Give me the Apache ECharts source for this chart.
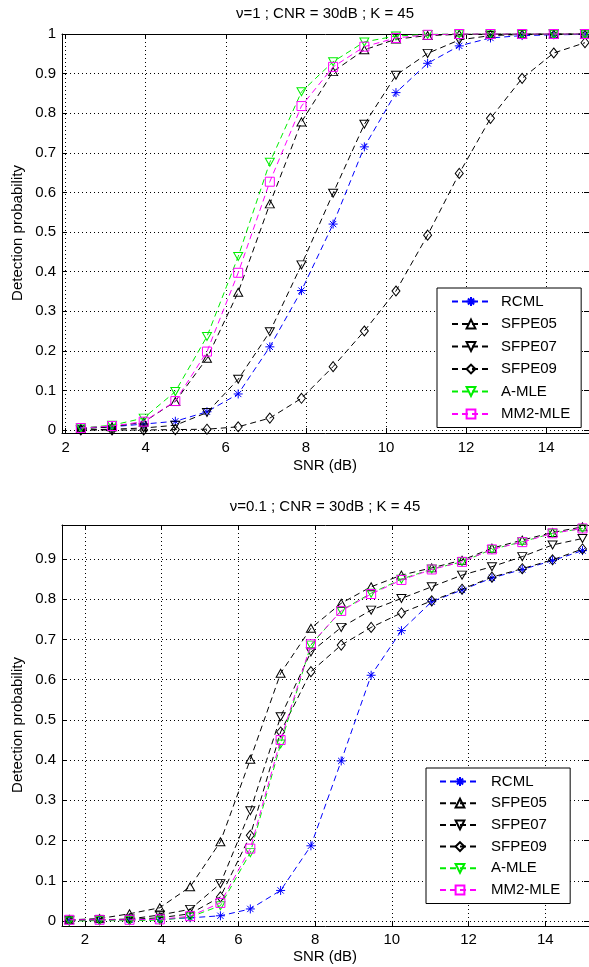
<!DOCTYPE html>
<html><head><meta charset="utf-8">
<script src="https://cdn.jsdelivr.net/npm/echarts@6/dist/echarts.min.js"></script>
<style>html,body{margin:0;padding:0;background:#fff}#c{width:589px;height:967px}</style>
</head><body><div id="c"></div>
<script>
// ---------- data ----------
const seriesNames = ['RCML', 'SFPE05', 'SFPE07', 'SFPE09', 'A-MLE', 'MM2-MLE'];
const titleTop = 'ν=1 ; CNR = 30dB ; K = 45';
const titleBottom = 'ν=0.1 ; CNR = 30dB ; K = 45';
const xLabel = 'SNR (dB)';
const yLabel = 'Detection probability';
const xTicks = [2, 4, 6, 8, 10, 12, 14];
const yTicksTop = [0, 0.1, 0.2, 0.3, 0.4, 0.5, 0.6, 0.7, 0.8, 0.9, 1];
const yTicksBottom = [0, 0.1, 0.2, 0.3, 0.4, 0.5, 0.6, 0.7, 0.8, 0.9];

const snrTop = [2.38, 3.16, 3.95, 4.74, 5.53, 6.31, 7.10, 7.89, 8.68, 9.46, 10.25, 11.04, 11.83, 12.61, 13.40, 14.19, 14.97];
const topRCML   = [0.005, 0.008, 0.015, 0.022, 0.046, 0.091, 0.21, 0.352, 0.52, 0.715, 0.852, 0.926, 0.97, 0.99, 0.996, 0.998, 0.999];
const topSFPE05 = [0.003, 0.008, 0.02, 0.072, 0.181, 0.348, 0.571, 0.778, 0.905, 0.96, 0.987, 0.996, 0.999, 1, 1, 1, 1];
const topSFPE07 = [0.0, 0.002, 0.005, 0.012, 0.044, 0.128, 0.248, 0.417, 0.598, 0.772, 0.896, 0.951, 0.985, 0.996, 0.999, 1, 1];
const topSFPE09 = [0, 0, 0, 0.001, 0.002, 0.008, 0.03, 0.08, 0.16, 0.25, 0.351, 0.492, 0.648, 0.787, 0.888, 0.952, 0.978];
const topAMLE   = [0.005, 0.012, 0.03, 0.097, 0.236, 0.438, 0.676, 0.854, 0.93, 0.98, 0.995, 0.999, 1, 1, 1, 1, 1];
const topMM2    = [0.005, 0.01, 0.021, 0.073, 0.198, 0.397, 0.627, 0.818, 0.917, 0.968, 0.99, 0.998, 1, 1, 1, 1, 1];

const snrBottom = [1.59, 2.38, 3.16, 3.95, 4.74, 5.53, 6.31, 7.10, 7.89, 8.68, 9.46, 10.25, 11.04, 11.83, 12.61, 13.40, 14.19, 14.97];
const botRCML   = [0.002, 0.002, 0.003, 0.004, 0.008, 0.013, 0.03, 0.076, 0.187, 0.398, 0.611, 0.722, 0.794, 0.823, 0.853, 0.874, 0.896, 0.921];
const botSFPE05 = [0.003, 0.006, 0.018, 0.033, 0.085, 0.197, 0.402, 0.616, 0.728, 0.79, 0.831, 0.86, 0.878, 0.897, 0.927, 0.947, 0.966, 0.98];
const botSFPE07 = [0.002, 0.003, 0.005, 0.015, 0.029, 0.093, 0.274, 0.508, 0.669, 0.73, 0.773, 0.802, 0.831, 0.86, 0.881, 0.906, 0.935, 0.951];
const botSFPE09 = [0.002, 0.003, 0.004, 0.008, 0.018, 0.06, 0.213, 0.47, 0.62, 0.686, 0.73, 0.766, 0.796, 0.825, 0.855, 0.876, 0.898, 0.925];
const botAMLE   = [0.0, 0.001, 0.001, 0.002, 0.01, 0.038, 0.17, 0.44, 0.686, 0.772, 0.815, 0.85, 0.875, 0.893, 0.924, 0.943, 0.964, 0.976];
const botMM2    = [0.003, 0.003, 0.003, 0.004, 0.012, 0.045, 0.18, 0.45, 0.688, 0.771, 0.813, 0.848, 0.874, 0.893, 0.924, 0.942, 0.964, 0.976];

// ---------- styles ----------
const FONT = '"Liberation Sans", Arial, sans-serif';
const STAR = 'path://M0,-10L0,10M-10,0L10,0M-7,-7L7,7M-7,7L7,-7';
const UP = 'path://M5,0L10,9L0,9Z';
const DOWN = 'path://M0,0L10,0L5,9Z';
const DIAM = 'path://M5,0L10,6L5,12L0,6Z';
const SQ = 'path://M0,0L10,0L10,10L0,10Z';
const STYLE = [
  { color: '#0000ff', symbol: STAR, size: 9 },
  { color: '#000000', symbol: UP, size: [9, 8] },
  { color: '#000000', symbol: DOWN, size: [9, 8] },
  { color: '#000000', symbol: DIAM, size: [8, 10] },
  { color: '#00ee00', symbol: DOWN, size: [9, 8] },
  { color: '#ff00ff', symbol: SQ, size: 9 }
];

const topSets = [topRCML, topSFPE05, topSFPE07, topSFPE09, topAMLE, topMM2];
const botSets = [botRCML, botSFPE05, botSFPE07, botSFPE09, botAMLE, botMM2];

function makeSeries(gi, xs, ys, k) {
  const st = STYLE[k];
  return {
    type: 'line', name: seriesNames[k],
    xAxisIndex: gi * 2, yAxisIndex: gi * 2,
    data: xs.map((x, i) => [x, ys[i]]),
    symbol: st.symbol, symbolSize: st.size, clip: false,
    showAllSymbol: true,
    lineStyle: { color: st.color, width: 1, type: [6, 4] },
    itemStyle: { color: 'rgba(0,0,0,0)', borderColor: st.color, borderWidth: 1 },
    emphasis: { disabled: true },
    z: 2 + k
  };
}

const GRIDS = [
  { left: 62, top: 34, width: 527, height: 399, xmin: 1.91, xmax: 15.07, ymin: -0.0076, ymax: 1, yTicks: yTicksTop, lm: 7 },
  { left: 62, top: 525, width: 527, height: 401, xmin: 1.40, xmax: 15.14, ymin: -0.0124, ymax: 0.9846, yTicks: yTicksBottom, lm: 6 }
];

const fmtY = v => String(Math.round(v * 10) / 10);
const xAxes = [], yAxes = [];
GRIDS.forEach((g, gi) => {
  const common = { type: 'value', gridIndex: gi };
  const line = { show: true, onZero: false, lineStyle: { color: '#000', width: 1 } };
  const tick = { show: true, inside: true, length: 5, lineStyle: { color: '#000' } };
  xAxes.push(Object.assign({}, common, {
    position: 'bottom', min: g.xmin, max: g.xmax,
    axisLine: line,
    axisTick: Object.assign({}, tick, { customValues: xTicks }),
    axisLabel: { customValues: xTicks, margin: g.lm, fontFamily: FONT, fontSize: 15, color: '#000' },
    splitLine: { show: true, lineStyle: { color: '#000', width: 1, type: [1, 3] } }
  }));
  xAxes.push(Object.assign({}, common, {
    position: 'top', min: g.xmin, max: g.xmax,
    axisLine: line,
    axisTick: Object.assign({}, tick, { customValues: xTicks }),
    axisLabel: { show: false }, splitLine: { show: false }
  }));
  yAxes.push(Object.assign({}, common, {
    position: 'left', min: g.ymin, max: g.ymax,
    axisLine: line,
    axisTick: Object.assign({}, tick, { customValues: g.yTicks }),
    axisLabel: { customValues: g.yTicks, formatter: fmtY, margin: 6, fontFamily: FONT, fontSize: 15, color: '#000' },
    splitLine: { show: true, lineStyle: { color: '#000', width: 1, type: [1, 3] } }
  }));
  yAxes.push(Object.assign({}, common, {
    position: 'right', min: g.ymin, max: g.ymax,
    axisLine: line,
    axisTick: Object.assign({}, tick, { customValues: g.yTicks }),
    axisLabel: { show: false }, splitLine: { show: false }
  }));
});

const series = [];
topSets.forEach((ys, k) => series.push(makeSeries(0, snrTop, ys, k)));
botSets.forEach((ys, k) => series.push(makeSeries(1, snrBottom, ys, k)));

function legend(left, top, pad, itemWidth, gap, textPad) {
  return {
    data: seriesNames, orient: 'vertical', left: left, top: top,
    backgroundColor: '#fff', borderColor: '#000', borderWidth: 1,
    padding: pad, itemWidth: itemWidth, itemHeight: 11, itemGap: gap,
    selectedMode: false,
    textStyle: { fontFamily: FONT, fontSize: 15, color: '#000', lineHeight: 15, padding: [0, 0, 0, textPad] }
  };
}

function txt(x, y, s, rot) {
  return {
    type: 'text', x: x, y: y, rotation: rot || 0, silent: true,
    style: { text: s, font: '15px ' + FONT, fill: '#000', textAlign: 'center', textVerticalAlign: 'middle' }
  };
}

const chart = echarts.init(document.getElementById('c'), null, { renderer: 'canvas' });
chart.setOption({
  animation: false,
  backgroundColor: '#fff',
  grid: GRIDS.map(g => ({ left: g.left, top: g.top, width: g.width, height: g.height, containLabel: false })),
  xAxis: xAxes,
  yAxis: yAxes,
  legend: [
    legend(437, 288, [6, 11, 6, 14], 38, 7.5, 6),
    legend(426, 768, [6, 10, 6, 13], 40, 6.7, 6)
  ],
  graphic: [
    txt(325, 14, titleTop),
    txt(325, 507, titleBottom),
    txt(325, 466, xLabel),
    txt(325, 957, xLabel),
    txt(18, 233, yLabel, Math.PI / 2),
    txt(18, 725, yLabel, Math.PI / 2)
  ],
  series: series
});
</script>
</body></html>
